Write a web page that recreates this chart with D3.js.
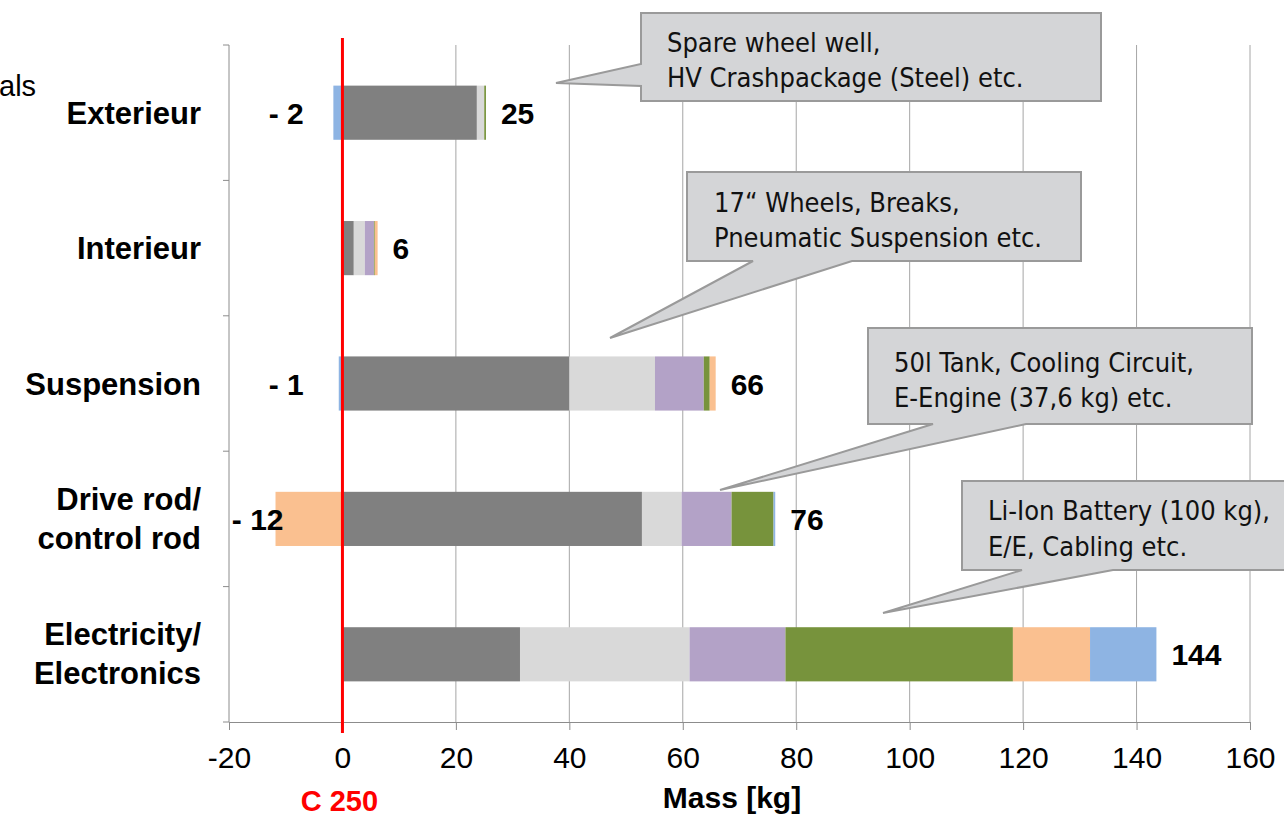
<!DOCTYPE html>
<html>
<meta charset="utf-8">
<style>
  body { margin: 0; background: #fff; }
  svg { font-family: "Liberation Sans", Arial, sans-serif; }
  .grid line { stroke: #a6a6a6; stroke-width: 1; }
  .xaxis path, .xaxis line { stroke: #8c8c8c; }
  .xaxis text { font-size: 30px; fill: #000; }
  .cat { font-size: 31px; font-weight: bold; }
  .val { font-size: 30px; font-weight: bold; }
  .callout path { fill: #d4d5d7; stroke: #9a9a9a; stroke-width: 2; stroke-linejoin: miter; }
  .callout text { font-family: "DejaVu Sans Condensed", "DejaVu Sans", sans-serif; font-size: 27px; fill: #111; }
</style>
<body>
<script src="https://d3js.org/d3.v7.min.js"></script>
<script>
// categories (top to bottom)
var categories = ["Exterieur", "Interieur", "Suspension", "Drive rod/control rod", "Electricity/Electronics"];
var categoryLines = [["Exterieur"], ["Interieur"], ["Suspension"], ["Drive rod/", "control rod"], ["Electricity/", "Electronics"]];

// mass difference per material group [kg]
var series = ["g1", "g2", "g3", "g4", "g5", "g6"];
var g1 = [23.7, 2.0, 40.0, 52.8, 31.3];
var g2 = [1.3, 1.95, 15.1, 7.0, 29.9];
var g3 = [0, 1.6, 8.6, 8.8, 16.9];
var g4 = [0.3, 0.15, 1.05, 7.4, 40.1];
var g5 = [0, 0.5, 1.05, -11.8, 13.6];
var g6 = [-1.6, 0, -0.65, 0.3, 11.7];
var colors = ["#808080", "#d9d9d9", "#b3a2c7", "#77933c", "#fac090", "#8eb4e3"];

var totalLabels = ["25", "6", "66", "76", "144"];
var negLabels = ["- 2", "", "- 1", "- 12", ""];
var xTicks = [-20, 0, 20, 40, 60, 80, 100, 120, 140, 160];

var callouts = [
  { lines: ["Spare wheel well,", "HV Crashpackage (Steel) etc."] },
  { lines: ["17\u201C Wheels, Breaks,", "Pneumatic Suspension etc."] },
  { lines: ["50l Tank, Cooling Circuit,", "E-Engine (37,6 kg) etc."] },
  { lines: ["Li-Ion Battery (100 kg),", "E/E, Cabling etc."] }
];

var width = 1284, height = 816;
var plotTop = 45, plotBottom = 722, plotLeft = 229, plotRight = 1250;

var svg = d3.select("body").append("svg")
    .attr("width", width)
    .attr("height", height);

var x = d3.scaleLinear().domain([-20, 160]).range([plotLeft, plotRight]);
var y = d3.scaleBand().domain(categories).range([plotTop, plotBottom])
    .paddingInner(0.6).paddingOuter(0.3);

// cut-off legend text
svg.append("text").attr("x", -1).attr("y", 96)
    .style("font-size", "29px").text("als");

// vertical gridlines
svg.append("g").attr("class", "grid")
  .selectAll("line").data(xTicks.filter(function(d) { return d !== -20; }))
  .enter().append("line")
    .attr("x1", function(d) { return x(d); })
    .attr("x2", function(d) { return x(d); })
    .attr("y1", plotTop).attr("y2", plotBottom);

// x axis
var xAxis = svg.append("g").attr("class", "xaxis")
    .attr("transform", "translate(0," + plotBottom + ")")
    .call(d3.axisBottom(x).tickValues(xTicks).tickSize(8).tickPadding(17).tickSizeOuter(0)
      .tickFormat(function(d) { return String(d); }));
xAxis.selectAll("text").style("font-family", "Liberation Sans, Arial, sans-serif");

// y axis line with ticks between categories
var yAxis = svg.append("g");
yAxis.append("line").attr("x1", plotLeft).attr("x2", plotLeft).attr("y1", plotTop).attr("y2", plotBottom)
    .style("stroke", "#8c8c8c");
var bounds = d3.range(categories.length + 1).map(function(i) { return plotTop + i * y.step(); });
yAxis.selectAll(".yt").data(bounds).enter().append("line")
    .attr("x1", plotLeft - 6).attr("x2", plotLeft)
    .attr("y1", function(d) { return d; }).attr("y2", function(d) { return d; })
    .style("stroke", "#8c8c8c");

// stacked bars
var rows = categories.map(function(c, i) {
  return { cat: c, g1: g1[i], g2: g2[i], g3: g3[i], g4: g4[i], g5: g5[i], g6: g6[i] };
});
var stack = d3.stack().keys(series).offset(d3.stackOffsetDiverging);
var layers = stack(rows);

svg.append("g").selectAll("g").data(layers).enter().append("g")
    .attr("fill", function(d, i) { return colors[i]; })
  .selectAll("rect").data(function(d) { return d; }).enter().append("rect")
    .attr("x", function(d) { return x(Math.min(d[0], d[1])); })
    .attr("width", function(d) { return Math.abs(x(d[1]) - x(d[0])); })
    .attr("y", function(d) { return y(d.data.cat); })
    .attr("height", y.bandwidth());

// category labels
svg.append("g").selectAll("text").data(categories).enter().append("text")
    .attr("class", "cat")
    .attr("text-anchor", "end")
    .attr("x", 201)
    .each(function(c, i) {
      var lines = categoryLines[i];
      var cy = y(c) + y.bandwidth() / 2;
      var first = lines.length === 1 ? cy + 11 : cy - 9;
      d3.select(this).selectAll("tspan").data(lines).enter().append("tspan")
        .attr("x", 201)
        .attr("y", function(l, j) { return first + j * 39; })
        .text(function(l) { return l; });
    });

// total labels
var posEnd = categories.map(function(c, i) {
  return d3.max(layers, function(l) { return Math.max(l[i][0], l[i][1]); });
});
svg.append("g").selectAll("text").data(totalLabels).enter().append("text")
    .attr("class", "val")
    .attr("x", function(d, i) { return x(posEnd[i]) + 15; })
    .attr("y", function(d, i) { return y(categories[i]) + y.bandwidth() / 2 + 11; })
    .text(function(d) { return d; });

// negative labels (placed left of the zero line)
var negStart = { "- 2": -13, "- 1": -13, "- 12": -19.5 };
svg.append("g").selectAll("text").data(negLabels).enter()
  .filter(function(d) { return d !== ""; })
  .append("text")
    .attr("class", "val")
    .attr("x", function(d) { return x(negStart[d]); })
    .attr("y", function(d) { return y(categories[negLabels.indexOf(d)]) + y.bandwidth() / 2 + 11; })
    .text(function(d) { return d; });

// reference line C 250
svg.append("line")
    .attr("x1", x(0)).attr("x2", x(0))
    .attr("y1", 38).attr("y2", 733)
    .style("stroke", "#ff0000").style("stroke-width", 3);
svg.append("text")
    .attr("x", x(0) - 3).attr("y", 811)
    .attr("text-anchor", "middle")
    .style("font-size", "29px").style("font-weight", "bold").style("fill", "#ff0000")
    .text("C 250");

// axis title
svg.append("text")
    .attr("x", 732).attr("y", 808)
    .attr("text-anchor", "middle")
    .style("font-size", "30px").style("font-weight", "bold")
    .text("Mass [kg]");

// callouts: box + pointer
var boxes = [
  { x0: 641, y0: 13, x1: 1101, y1: 101, side: "left", b0: 64, b1: 86, tip: [556, 83], tx: 667, ty: [52, 87] },
  { x0: 687, y0: 172, x1: 1081, y1: 261, side: "bottom", b0: 753, b1: 852, tip: [610, 338], tx: 714, ty: [212, 247] },
  { x0: 868, y0: 328, x1: 1252, y1: 424, side: "bottom", b0: 933, b1: 1026, tip: [720, 490], tx: 894, ty: [372, 407] },
  { x0: 962, y0: 481, x1: 1300, y1: 570, side: "bottom", b0: 1022, b1: 1113, tip: [883, 613], tx: 988, ty: [520, 556] }
];

function calloutPath(b) {
  var p = d3.path();
  p.moveTo(b.x0, b.y0);
  p.lineTo(b.x1, b.y0);
  p.lineTo(b.x1, b.y1);
  if (b.side === "bottom") {
    p.lineTo(b.b1, b.y1);
    p.lineTo(b.tip[0], b.tip[1]);
    p.lineTo(b.b0, b.y1);
  }
  p.lineTo(b.x0, b.y1);
  if (b.side === "left") {
    p.lineTo(b.x0, b.b1);
    p.lineTo(b.tip[0], b.tip[1]);
    p.lineTo(b.x0, b.b0);
  }
  p.closePath();
  return p.toString();
}

var co = svg.append("g").selectAll("g").data(callouts).enter().append("g").attr("class", "callout");
co.append("path").attr("d", function(d, i) { return calloutPath(boxes[i]); });
co.each(function(d, i) {
  var b = boxes[i];
  d3.select(this).selectAll("text").data(d.lines).enter().append("text")
    .attr("x", b.tx)
    .attr("y", function(l, j) { return b.ty[j]; })
    .text(function(l) { return l; });
});
</script>
</body>
</html>
